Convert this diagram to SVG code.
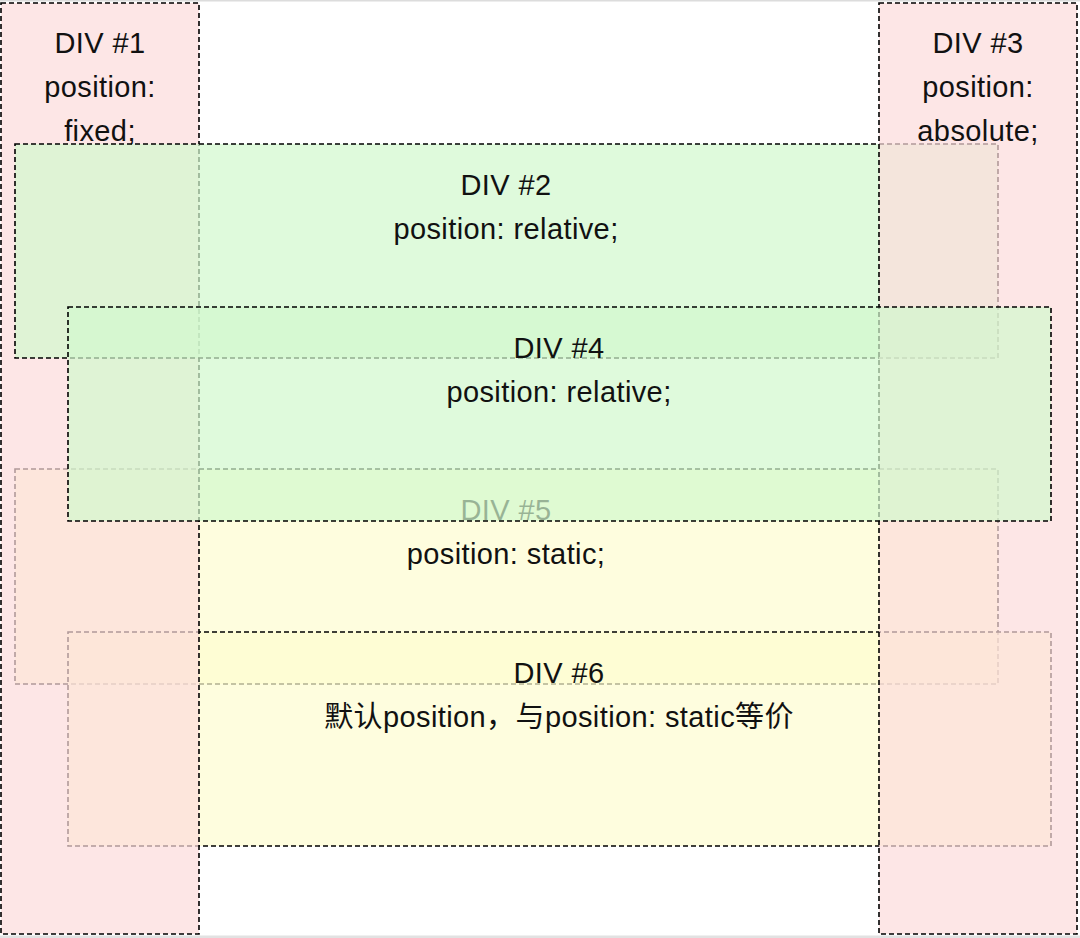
<svg xmlns="http://www.w3.org/2000/svg" width="1080" height="938" viewBox="0 0 1080 938">
<style>
.box{stroke:#000;stroke-width:1.6;stroke-dasharray:5 3}
.pink{fill:#fcdbdb;fill-opacity:0.7}
.green{fill:#d1f8cd;fill-opacity:0.7}
.yellow{fill:#fefcd0;fill-opacity:0.7}
text{font-family:"Liberation Sans","Noto Sans CJK SC",sans-serif;font-size:29px;fill:#111;text-anchor:middle;letter-spacing:0.4px}
</style>
<rect x="0" y="0" width="1080" height="938" fill="#ffffff"/>
<line x1="0" y1="0.8" x2="1080" y2="0.8" stroke="#dcdcdc" stroke-width="1.6"/>
<rect x="0" y="935.5" width="1080" height="2.5" fill="#e2e2e2"/>
<g id="div5">
<rect class="box yellow" x="15" y="469" width="983" height="215"/>
</g>
<g id="div6">
<rect class="box yellow" x="68" y="632" width="983" height="214"/>
</g>
<g id="div5-text">
<text x="506" y="520">DIV #5</text>
<text x="506" y="564">position: static;</text>
</g>
<g id="div6-text">
<text x="559" y="683">DIV #6</text>
<text x="559" y="727">默认position，与position: static等价</text>
</g>
<g id="div1">
<rect class="box pink" x="1" y="3" width="198" height="931"/>
<text x="100" y="53">DIV #1</text>
<text x="100" y="97">position:</text>
<text x="100" y="141">fixed;</text>
</g>
<g id="div2">
<rect class="box green" x="15" y="144" width="983" height="214"/>
<text x="506" y="195">DIV #2</text>
<text x="506" y="239">position: relative;</text>
</g>
<g id="div3">
<rect class="box pink" x="879" y="3" width="198" height="931"/>
<text x="978" y="53">DIV #3</text>
<text x="978" y="97">position:</text>
<text x="978" y="141">absolute;</text>
</g>
<g id="div4">
<rect class="box green" x="68" y="307" width="983" height="214"/>
<text x="559" y="358">DIV #4</text>
<text x="559" y="402">position: relative;</text>
</g>
</svg>
